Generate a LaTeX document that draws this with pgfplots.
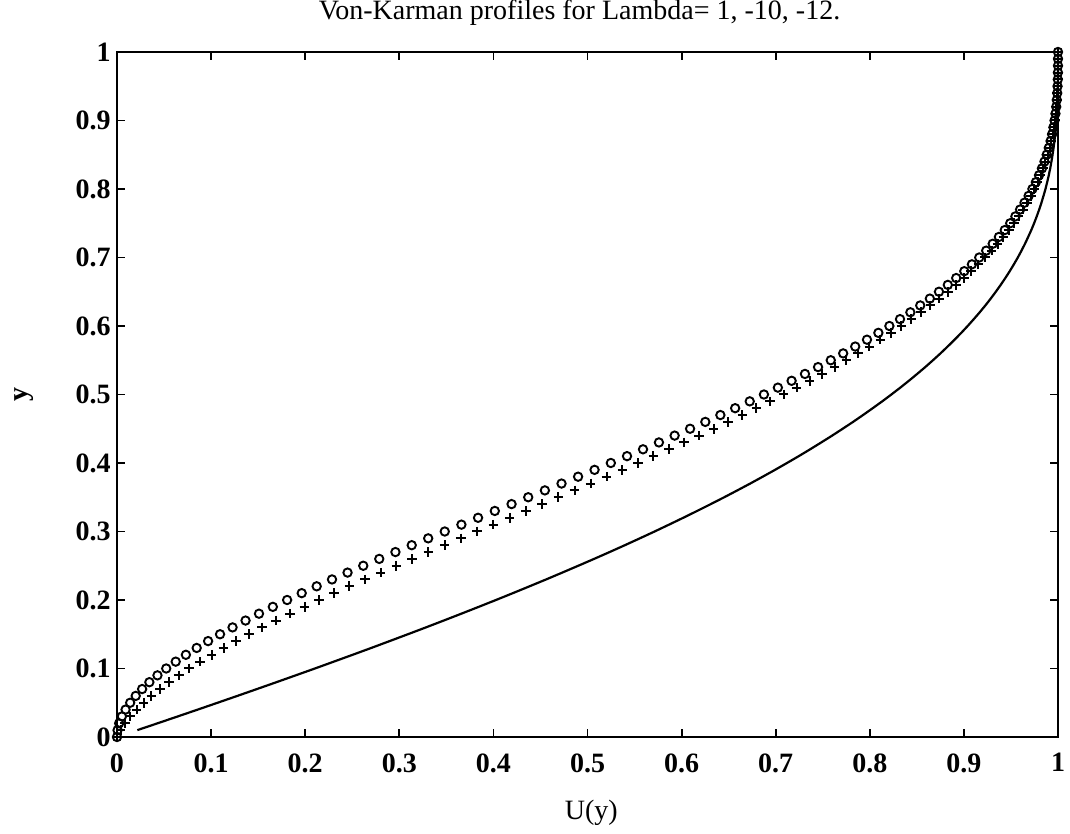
\documentclass[border=0pt]{standalone}
\usepackage{fontspec}
\setmainfont{Liberation Serif}
\usepackage{pgfplots}
\usepackage{pgfplotstable}
\pgfplotsset{compat=1.18}

% eta = y ; S = solid (Lambda=1), P = plus (Lambda=-10), C = circles (Lambda=-12)
\pgfplotstableread{
eta S P C
0.00 nan 0 0
0.01 0.0216 0.0038 0.0006
0.02 0.0431 0.0086 0.0023
0.03 0.0645 0.0143 0.0052
0.04 0.0858 0.0209 0.0091
0.05 0.1069 0.0283 0.0140
0.06 0.1279 0.0365 0.0199
0.07 0.1487 0.0455 0.0267
0.08 0.1694 0.0552 0.0344
0.09 0.1899 0.0656 0.0430
0.10 0.2103 0.0766 0.0523
0.11 0.2304 0.0882 0.0624
0.12 0.2504 0.1005 0.0732
0.13 0.2702 0.1132 0.0847
0.14 0.2897 0.1265 0.0968
0.15 0.3091 0.1402 0.1095
0.16 0.3283 0.1544 0.1228
0.17 0.3472 0.1690 0.1366
0.18 0.3659 0.1840 0.1509
0.19 0.3844 0.1993 0.1656
0.20 0.4027 0.2149 0.1808
0.21 0.4207 0.2309 0.1963
0.22 0.4384 0.2470 0.2122
0.23 0.4560 0.2635 0.2285
0.24 0.4732 0.2801 0.2450
0.25 0.4902 0.2969 0.2617
0.26 0.5070 0.3138 0.2787
0.27 0.5235 0.3309 0.2959
0.28 0.5397 0.3481 0.3132
0.29 0.5556 0.3653 0.3307
0.30 0.5713 0.3826 0.3483
0.31 0.5866 0.3999 0.3660
0.32 0.6017 0.4173 0.3837
0.33 0.6165 0.4346 0.4015
0.34 0.6310 0.4518 0.4193
0.35 0.6453 0.4691 0.4370
0.36 0.6592 0.4862 0.4547
0.37 0.6729 0.5032 0.4724
0.38 0.6862 0.5202 0.4900
0.39 0.6993 0.5370 0.5075
0.40 0.7120 0.5536 0.5248
0.41 0.7245 0.5701 0.5420
0.42 0.7366 0.5864 0.5590
0.43 0.7484 0.6025 0.5759
0.44 0.7600 0.6183 0.5926
0.45 0.7712 0.6340 0.6090
0.46 0.7822 0.6494 0.6252
0.47 0.7928 0.6645 0.6412
0.48 0.8031 0.6794 0.6569
0.49 0.8132 0.6940 0.6724
0.50 0.8229 0.7083 0.6875
0.51 0.8324 0.7223 0.7023
0.52 0.8415 0.7361 0.7169
0.53 0.8503 0.7494 0.7311
0.54 0.8589 0.7625 0.7450
0.55 0.8671 0.7752 0.7585
0.56 0.8751 0.7876 0.7717
0.57 0.8827 0.7996 0.7845
0.58 0.8901 0.8113 0.7970
0.59 0.8972 0.8226 0.8091
0.60 0.9040 0.8336 0.8208
0.61 0.9105 0.8442 0.8321
0.62 0.9168 0.8544 0.8431
0.63 0.9228 0.8643 0.8536
0.64 0.9285 0.8737 0.8638
0.65 0.9339 0.8828 0.8735
0.66 0.9391 0.8915 0.8829
0.67 0.9440 0.8999 0.8918
0.68 0.9487 0.9078 0.9004
0.69 0.9531 0.9154 0.9085
0.70 0.9573 0.9226 0.9163
0.71 0.9612 0.9294 0.9237
0.72 0.9649 0.9359 0.9306
0.73 0.9683 0.9420 0.9372
0.74 0.9716 0.9477 0.9434
0.75 0.9746 0.9531 0.9492
0.76 0.9774 0.9582 0.9547
0.77 0.9800 0.9629 0.9597
0.78 0.9824 0.9672 0.9644
0.79 0.9846 0.9712 0.9688
0.80 0.9867 0.9749 0.9728
0.81 0.9885 0.9783 0.9765
0.82 0.9902 0.9814 0.9798
0.83 0.9917 0.9842 0.9829
0.84 0.9930 0.9867 0.9856
0.85 0.9942 0.9890 0.9880
0.86 0.9953 0.9910 0.9902
0.87 0.9962 0.9927 0.9921
0.88 0.9970 0.9942 0.9937
0.89 0.9977 0.9955 0.9951
0.90 0.9983 0.9966 0.9963
0.91 0.9987 0.9975 0.9973
0.92 0.9991 0.9982 0.9981
0.93 0.9994 0.9988 0.9987
0.94 0.9996 0.9992 0.9992
0.95 0.9998 0.9996 0.9995
0.96 0.9999 0.9998 0.9998
0.97 1.0000 0.9999 0.9999
0.98 1.0000 1.0000 1.0000
0.99 1.0000 1.0000 1.0000
1.00 1.0000 1.0000 1.0000
}\profiles

\begin{document}
\begin{tikzpicture}
\begin{axis}[
  at={(0pt,0pt)}, anchor=south west,
  scale only axis, width=470.5pt, height=342.5pt,
  xmin=0, xmax=1, ymin=0, ymax=1,
  xtick={0,0.1,0.2,0.3,0.4,0.5,0.6,0.7,0.8,0.9,1},
  xticklabels={0,0.1,0.2,0.3,0.4,0.5,0.6,0.7,0.8,0.9,1},
  ytick={0,0.1,0.2,0.3,0.4,0.5,0.6,0.7,0.8,0.9,1},
  yticklabels={0,0.1,0.2,0.3,0.4,0.5,0.6,0.7,0.8,0.9,1},
  tick align=inside, major tick length=4pt,
  axis line style={line width=1.1pt, black},
  tick style={line width=0.9pt, black},
  tick label style={font=\fontsize{14}{16}\selectfont\bfseries},
  /pgf/number format/assume math mode=true,
  xticklabel style={anchor=north, inner sep=0pt, yshift=-8pt},
  yticklabel style={anchor=east, inner sep=0pt, xshift=-3pt},
  every axis title shift=0pt,
  title={Von-Karman profiles for Lambda= 1, -10, -12.},
  title style={at={(0.4915,1.0569)}, anchor=center, font=\fontsize{14}{16}\selectfont},
  xlabel={U(y)},
  xlabel style={at={(0.504,-0.11)}, anchor=center, font=\fontsize{14}{16}\selectfont},
  ylabel={y},
  ylabel style={at={(-0.0988,0.5)}, anchor=center, font=\fontsize{14}{16}\selectfont\bfseries},
  clip=false,
]
\addplot[black, line width=1.1pt, no markers] table[x=S, y=eta] {\profiles};
\addplot[black, only marks, mark=+, mark size=2.4pt, mark options={line width=1pt}] table[x=P, y=eta] {\profiles};
\addplot[black, only marks, mark=o, mark size=2.1pt, mark options={line width=0.95pt}] table[x=C, y=eta] {\profiles};
\end{axis}
\pgfresetboundingbox
\path (-58.5pt,-48.5pt) rectangle (476.5pt,368.5pt);
\end{tikzpicture}
\end{document}
